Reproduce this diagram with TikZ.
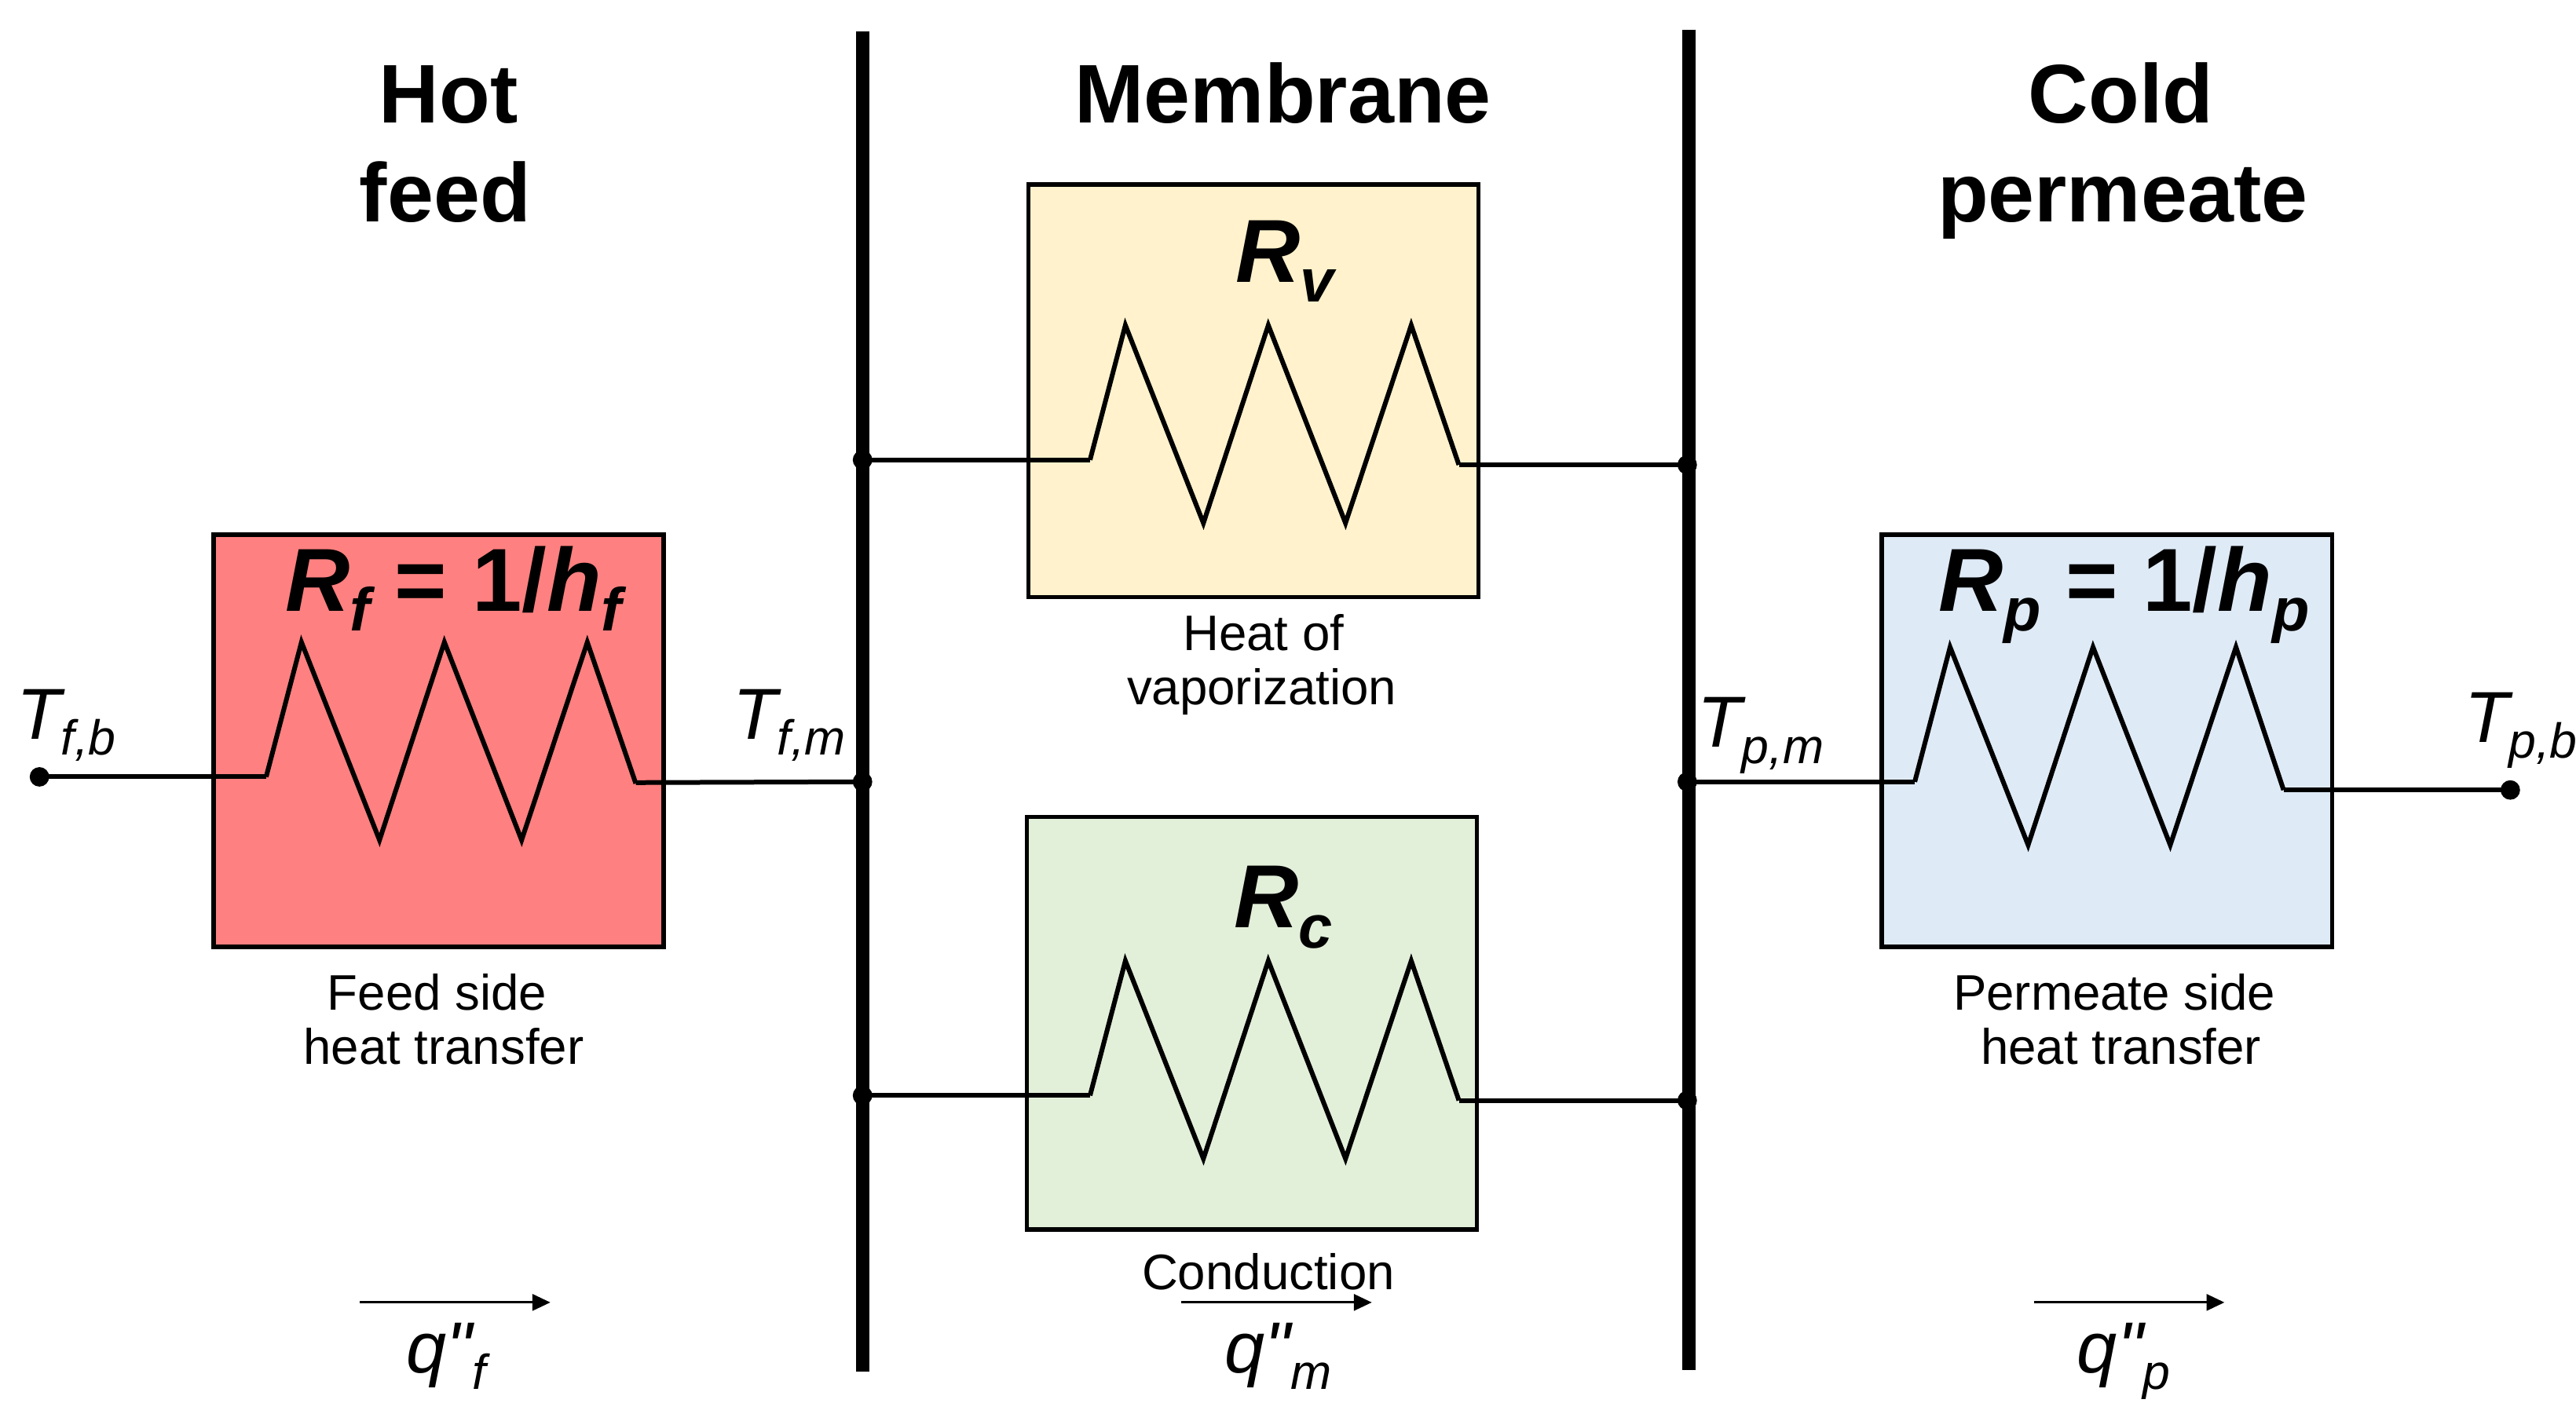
\documentclass[tikz,border=0pt]{standalone}
\usepackage{fontspec}
\setmainfont{Liberation Sans}[Ligatures=TeXOff]
\usetikzlibrary{arrows.meta}
\definecolor{hotred}{HTML}{FF8080}
\definecolor{vapyellow}{HTML}{FFF2CC}
\definecolor{condgreen}{HTML}{E2EFD9}
\definecolor{coldblue}{HTML}{DEEAF6}
% subscripts as the picture sets them: small, lowered
\newcommand{\lowpart}[1]{\raisebox{-0.22em}{\scalebox{0.68}{#1}}}
% resistor zigzag, always the same three teeth
\newcommand{\zigzag}[2]{\draw[wire] (#1) -- ++(21.5,-82) -- ++(47.5,120.5) -- ++(39.5,-120.5) -- ++(47,120.5) -- ++(40,-120.5) -- (#2);}
\begin{document}
\begin{tikzpicture}[
        x=0.523pt, y=-0.523pt,
        wire/.style={line width=1.5pt, line join=miter, miter limit=10},
        bar/.style={line width=4.2pt},
        flux/.style={line width=0.75pt, -{Triangle[length=5.7pt,width=5.2pt]}},
        res/.style={rectangle, draw, line width=1.4pt, inner sep=0pt, minimum width=143.3pt},
        tall/.style={minimum height=131.3pt},
        dot/.style={circle, fill=black, inner sep=0pt, minimum size=6.2pt},
        title/.style={anchor=base, font=\fontsize{26.5}{30}\selectfont\bfseries},
        rlabel/.style={anchor=base, font=\fontsize{28.5}{30}\selectfont\bfseries\itshape},
        note/.style={anchor=base, font=\fontsize{15.9}{17}\selectfont},
        temp/.style={anchor=base west, inner sep=0pt, font=\fontsize{23}{24}\selectfont\itshape},
    ]
    \useasboundingbox (0,0) rectangle (1568,867.6);

    % Boxes
    \node[res, tall, fill=hotred] (rf) at (267,451) {};
    \node[res, tall, fill=vapyellow] (rv) at (763,238) {};
    \node[res, tall, fill=condgreen] (rc) at (762,623) {};
    \node[res, tall, fill=coldblue] (rp) at (1282.5,451) {};

    % Membrane walls
    \coordinate (wall1top) at (525,19);
    \coordinate (wall1bot) at (525,835);
    \coordinate (wall2top) at (1028,18);
    \coordinate (wall2bot) at (1028,834);
    \draw[bar] (wall1top) -- (wall1bot);
    \draw[bar] (wall2top) -- (wall2bot);

    % Junctions
    \node[dot] (tfb) at (24,473) {};
    \node[dot] (tpb) at (1528,481) {};
    \node[dot] (v1) at (525,280) {};
    \node[dot] (v2) at (1027,283) {};
    \node[dot] (m1) at (525,476) {};
    \node[dot] (m2) at (1027,476) {};
    \node[dot] (c1) at (525,667) {};
    \node[dot] (c2) at (1027,670) {};

    % Zigzag ends
    \coordinate (rfa) at (162,473);
    \coordinate (rfb) at (387,477);
    \coordinate (rva) at (663.5,280);
    \coordinate (rvb) at (888,283);
    \coordinate (rca) at (663.5,667);
    \coordinate (rcb) at (888,670);
    \coordinate (rpa) at (1165.5,476);
    \coordinate (rpb) at (1390,481);

    \zigzag{rfa}{rfb}
    \zigzag{rva}{rvb}
    \zigzag{rca}{rcb}
    \zigzag{rpa}{rpb}

    \draw[wire] (tfb.center) -- (rfa);
    \draw[wire] (rfb) -- (387,476.5) -- (m1.center);
    \draw[wire] (v1.center) -- (rva);
    \draw[wire] (rvb) -- (v2.center);
    \draw[wire] (c1.center) -- (rca);
    \draw[wire] (rcb) -- (c2.center);
    \draw[wire] (m2.center) -- (rpa);
    \draw[wire] (rpb) -- (tpb.center);

    % Headings
    \node[title] (hot) at (273,75) {Hot};
    \node[title] (feed) at (271,135) {feed};
    \node[title] (mem) at (781,75) {Membrane};
    \node[title] (cold) at (1291,75) {Cold};
    \node[title] (perm) at (1292,135) {permeate};

    % Resistance labels
    \node[rlabel] (lf) at (276,372) {R\lowpart{f} {\upshape = 1/}h\lowpart{f}};
    \node[rlabel] (lv) at (782,172) {R\lowpart{v}};
    \node[rlabel] (lc) at (781,565) {R\lowpart{c}};
    \node[rlabel] (lp) at (1293,372) {R\lowpart{p} {\upshape = 1/}h\lowpart{p}};

    % Captions
    \node[note] (n1) at (266,615) {Feed side};
    \node[note] (n2) at (270,648) {heat transfer};
    \node[note] (n3) at (769,396) {Heat of};
    \node[note] (n4) at (768,429) {vaporization};
    \node[note] (n5) at (772,785) {Conduction};
    \node[note] (n6) at (1287,615) {Permeate side};
    \node[note] (n7) at (1291,648) {heat transfer};

    % Temperatures
    \node[temp] (ltfb) at (10,450) {T\lowpart{f,b}};
    \node[temp] (ltfm) at (446,450) {T\lowpart{f,m}};
    \node[temp] (ltpm) at (1033,455) {T\lowpart{p,m}};
    \node[temp] (ltpb) at (1500,452) {T\lowpart{p,b}};

    % Heat flux arrows
    \coordinate (fa1) at (219,793);
    \coordinate (fb1) at (335,793);
    \coordinate (fa2) at (719,793);
    \coordinate (fb2) at (835,793);
    \coordinate (fa3) at (1238,793);
    \coordinate (fb3) at (1354,793);
    \draw[flux] (fa1) -- (fb1);
    \draw[flux] (fa2) -- (fb2);
    \draw[flux] (fa3) -- (fb3);
    \node[temp] (qf) at (247,836) {q"\lowpart{f}};
    \node[temp] (qm) at (745,836) {q"\lowpart{m}};
    \node[temp] (qp) at (1264,836) {q"\lowpart{p}};
\end{tikzpicture}
\end{document}
